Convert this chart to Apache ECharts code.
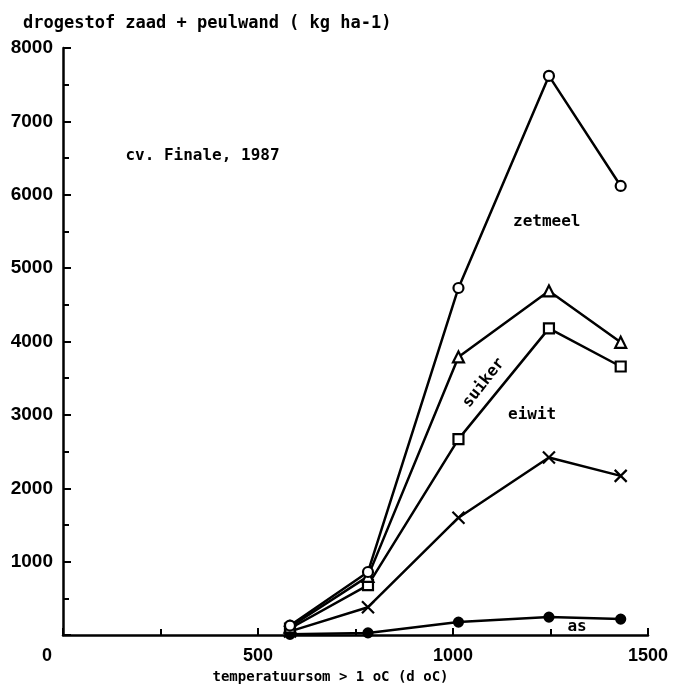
<!DOCTYPE html>
<html>
<head>
<meta charset="utf-8">
<script src="https://cdn.jsdelivr.net/npm/echarts@6/dist/echarts.min.js"></script>
<style>
  html, body { margin: 0; padding: 0; background: #fff; }
  #c { width: 675px; height: 689px; }
</style>
</head>
<body>
<div id="c"></div>
<script>
// Temperatuursom (d oC) op de oogstdata
const temperatuursom = [582, 782, 1014, 1246, 1430];

// Drogestof zaad + peulwand per component (kg ha-1)
const zetmeel = [130, 860, 4730, 7620, 6120];
const suiker  = [110, 800, 3790, 4690, 3990];
const eiwit   = [90, 680, 2670, 4180, 3660];
const overig  = [50, 380, 1600, 2420, 2170];
const as      = [10, 30, 177, 245, 218];

// Tekstlabels in de grafiek: [tekst, x (d oC), y (kg ha-1), rotatie in graden, uitlijning]
const labels = [
  ['cv. Finale, 1987', 160, 6535, 0, 'left'],
  ['zetmeel', 1154, 5625, 0, 'left'],
  ['suiker', 1079, 3437, 52, 'center'],
  ['eiwit', 1203, 3003, 0, 'center'],
  ['as', 1318, 109, 0, 'center']
];

const mono = '"DejaVu Sans Mono", "Liberation Mono", monospace';
const sans = '"Liberation Sans", Arial, sans-serif';
const ink = '#000';

function pairs(ys) {
  return temperatuursom.map((t, i) => [t, ys[i]]);
}

function lineSeries(name, ys, symbol, size, filled) {
  return {
    name: name,
    type: 'line',
    data: pairs(ys),
    symbol: symbol,
    symbolSize: size,
    symbolKeepAspect: true,
    showAllSymbol: true,
    lineStyle: { color: ink, width: 2.5 },
    itemStyle: {
      color: filled ? ink : '#fff',
      borderColor: ink,
      borderWidth: 2.2
    },
    emphasis: { disabled: true },
    z: 3
  };
}

const chart = echarts.init(document.getElementById('c'), null, { renderer: 'canvas' });

chart.setOption({
  animation: false,
  backgroundColor: '#fff',
  title: {
    text: 'drogestof zaad + peulwand ( kg ha-1)',
    left: 18,
    top: 10,
    textStyle: { fontFamily: mono, fontSize: 17, fontWeight: 'bold', color: ink }
  },
  grid: { left: 63, right: 27, top: 48, bottom: 53, containLabel: false },
  xAxis: {
    type: 'value',
    min: 0,
    max: 1500,
    interval: 500,
    name: 'temperatuursom > 1 oC (d oC)',
    nameLocation: 'middle',
    nameGap: 34,
    nameTextStyle: {
      fontFamily: mono, fontSize: 14, fontWeight: 'bold', color: ink,
      padding: [0, 50, 0, 0]
    },
    axisLine: { show: true, onZero: false, lineStyle: { color: ink, width: 2.5 } },
    axisTick: { show: true, inside: true, length: 7, lineStyle: { color: ink, width: 2 } },
    minorTick: { show: true, splitNumber: 2, length: 6, lineStyle: { color: ink, width: 2 } },
    splitLine: { show: false },
    axisLabel: {
      margin: 12,
      fontFamily: sans,
      fontSize: 18,
      fontWeight: 'bold',
      color: ink,
      formatter: v => v === 0 ? '{z|0}' : String(v),
      rich: {
        z: { fontFamily: sans, fontSize: 18, fontWeight: 'bold', color: ink, padding: [0, 32, 0, 0] }
      }
    }
  },
  yAxis: {
    type: 'value',
    min: 0,
    max: 8000,
    interval: 1000,
    axisLine: { show: true, onZero: false, lineStyle: { color: ink, width: 2.5 } },
    axisTick: { show: true, inside: true, length: 8, lineStyle: { color: ink, width: 2 } },
    minorTick: { show: true, splitNumber: 2, length: 6, lineStyle: { color: ink, width: 2 } },
    splitLine: { show: false },
    axisLabel: {
      margin: 10,
      fontFamily: sans,
      fontSize: 19,
      fontWeight: 'bold',
      color: ink,
      formatter: v => v === 0 ? '' : String(v)
    }
  },
  series: [
    lineSeries('as', as, 'circle', 9, true),
    lineSeries('overig', overig, 'path://M0,0L10,10M10,0L0,10', 12, false),
    lineSeries('eiwit', eiwit, 'rect', 10, false),
    lineSeries('suiker', suiker, 'triangle', 11, false),
    lineSeries('zetmeel', zetmeel, 'circle', 10, false)
  ]
});

// Tekstlabels op datacoördinaten plaatsen
chart.setOption({
  graphic: labels.map(([text, x, y, rot, align]) => {
    const p = chart.convertToPixel({ gridIndex: 0 }, [x, y]);
    return {
      type: 'text',
      x: p[0],
      y: p[1],
      rotation: rot * Math.PI / 180,
      z: 10,
      style: {
        text: text,
        fontFamily: mono,
        fontSize: 16,
        fontWeight: 'bold',
        fill: ink,
        align: align,
        verticalAlign: 'middle'
      }
    };
  })
});
</script>
</body>
</html>
